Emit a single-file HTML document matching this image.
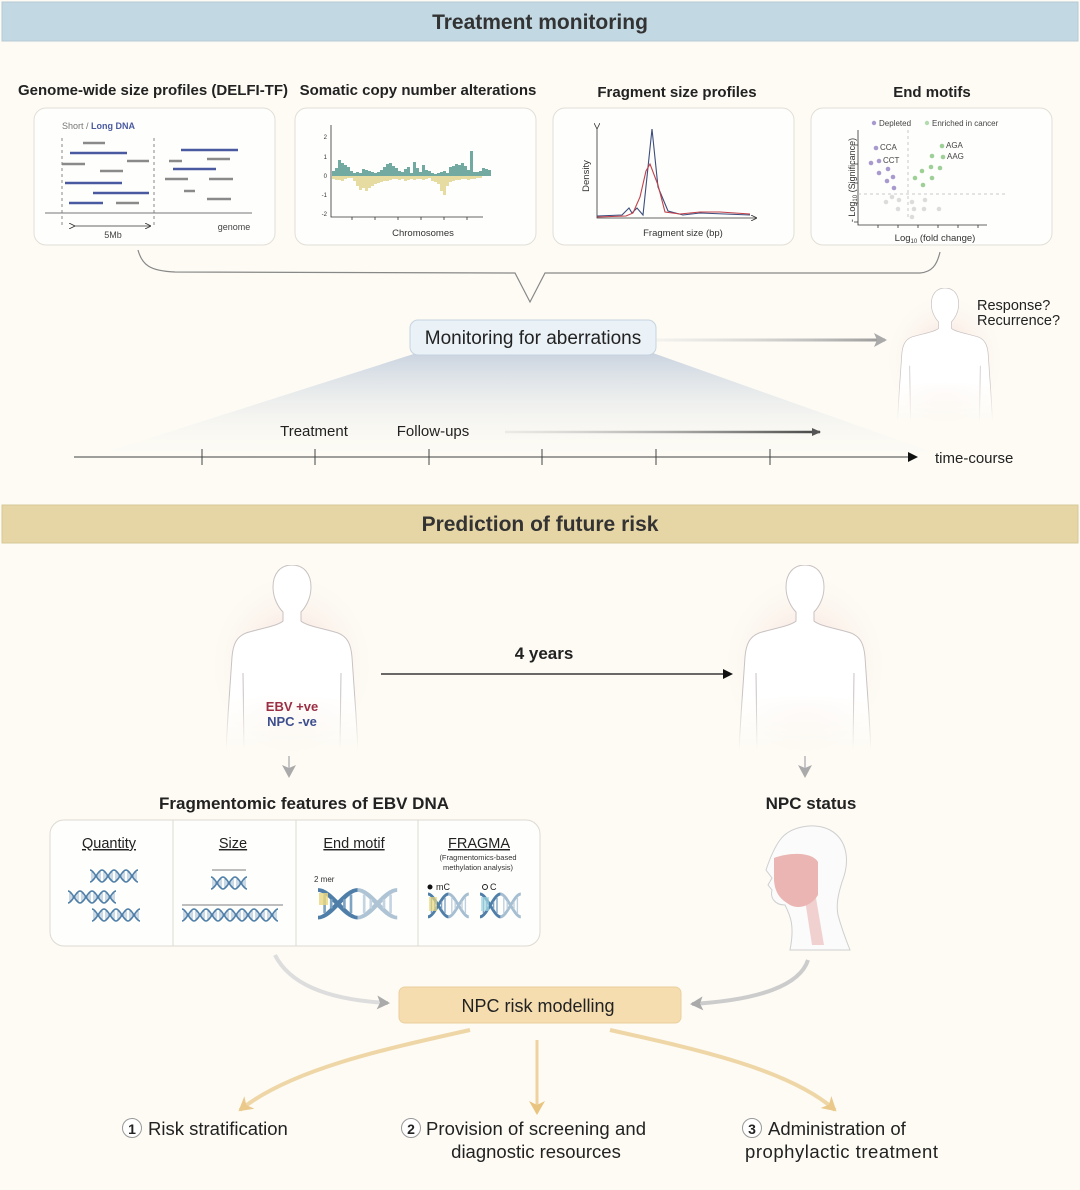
<!DOCTYPE html>
<html><head><meta charset="utf-8"><style>
html,body{margin:0;padding:0;background:#fdfbf4;}
svg{display:block;font-family:"Liberation Sans","DejaVu Sans",sans-serif;}
</style></head><body>
<svg width="1080" height="1190" viewBox="0 0 1080 1190" xmlns="http://www.w3.org/2000/svg">
<defs>
 <marker id="ah" markerWidth="10" markerHeight="10" refX="8" refY="5" orient="auto" markerUnits="userSpaceOnUse"><path d="M0,0 L10,5 L0,10 Z" fill="#111"/></marker>
 <marker id="ahg" markerWidth="14" markerHeight="14" refX="11" refY="7" orient="auto" markerUnits="userSpaceOnUse"><path d="M0,0 L13,7 L0,14 L3,7 Z" fill="#aaa"/></marker>
 <marker id="ahd" markerWidth="10" markerHeight="10" refX="8" refY="5" orient="auto" markerUnits="userSpaceOnUse"><path d="M0,1 L9,5 L0,9 Z" fill="#555"/></marker>
 <marker id="ahy" markerWidth="16" markerHeight="16" refX="12" refY="8" orient="auto" markerUnits="userSpaceOnUse"><path d="M0,0 L14,8 L0,16 L4,8 Z" fill="#e8c47f"/></marker>
 <marker id="ahs" markerWidth="6" markerHeight="6" refX="5" refY="3" orient="auto" markerUnits="userSpaceOnUse"><path d="M0,0 L6,3 L0,6" fill="none" stroke="#333" stroke-width="0.8"/></marker>
 <linearGradient id="fan" x1="0" y1="0" x2="0" y2="1">
  <stop offset="0" stop-color="#c3cedd" stop-opacity="0.9"/><stop offset="1" stop-color="#fdfbf4" stop-opacity="0"/></linearGradient>
 <linearGradient id="garr" gradientUnits="userSpaceOnUse" x1="656" y1="0" x2="885" y2="0"><stop offset="0" stop-color="#ddd" stop-opacity="0.3"/><stop offset="1" stop-color="#999"/></linearGradient>
 <linearGradient id="darr" gradientUnits="userSpaceOnUse" x1="505" y1="0" x2="820" y2="0"><stop offset="0" stop-color="#ccc" stop-opacity="0.3"/><stop offset="1" stop-color="#444"/></linearGradient>
 <linearGradient id="fade" x1="0" y1="0" x2="0" y2="1"><stop offset="0.7" stop-color="#fff"/><stop offset="1" stop-color="#000"/></linearGradient>
 <mask id="fm" maskContentUnits="objectBoundingBox"><rect width="1" height="1" fill="url(#fade)"/></mask>
 <radialGradient id="glow"><stop offset="0" stop-color="#f3c9c3" stop-opacity="0.85"/><stop offset="1" stop-color="#fdfbf4" stop-opacity="0"/></radialGradient>
 <path id="body" d="M0,0 C-12,0 -19,9 -19,22 C-19,34 -13,43 -9,47 L-9,56 C-14,61 -34,64 -46,68 C-56,72 -59,80 -60,92 L-64,150 L-66,185 L66,185 L64,150 L60,92 C59,80 56,72 46,68 C34,64 14,61 9,56 L9,47 C13,43 19,34 19,22 C19,9 12,0 0,0 Z"/>
 <g id="person">
  <ellipse cx="0" cy="100" rx="85" ry="95" fill="url(#glow)"/>
  <g mask="url(#fm)">
   <use href="#body" fill="#fff" stroke="#c9c2c2" stroke-width="1"/>
   <path d="M-49,108 L-48,185 M49,108 L48,185" stroke="#c9c2c2" fill="none"/>
  </g>
 </g>
 <g id="helix">
  <path d="M0,0 C4,0 8,12 12,12 M0,12 C4,12 8,0 12,0" stroke="#4f7fa8" stroke-width="1.6" fill="none"/>
  <path d="M2,2V10M4,4V8M8,4V8M10,2V10" stroke="#7fa3c3" stroke-width="0.8"/>
 </g>
</defs>

<rect x="2" y="2" width="1076" height="39" fill="#c2d9e4" stroke="#b5c9d4"/>
<text x="540" y="29" text-anchor="middle" font-size="21" font-weight="bold" fill="#333">Treatment monitoring</text>

<g font-size="15" font-weight="bold" fill="#222" text-anchor="middle">
<text x="153" y="95">Genome-wide size profiles (DELFI-TF)</text>
<text x="418" y="95">Somatic copy number alterations</text>
<text x="677" y="97">Fragment size profiles</text>
<text x="932" y="97">End motifs</text>
</g>
<g fill="#fefefc" stroke="#e2dfd7">
<rect x="34" y="108" width="241" height="137" rx="12"/>
<rect x="295" y="108" width="241" height="137" rx="12"/>
<rect x="553" y="108" width="241" height="137" rx="12"/>
<rect x="811" y="108" width="241" height="137" rx="12"/>
</g>

<text x="62" y="129" font-size="9" fill="#777">Short / <tspan fill="#4a5aa0" font-weight="bold">Long DNA</tspan></text>
<path d="M62,138V225M154,138V225" stroke="#888" stroke-dasharray="3,3"/>
<path d="M45,213H252" stroke="#777"/>
<path d="M74,226H150" stroke="#333" stroke-width="0.8" marker-end="url(#ahs)" marker-start="url(#ahs)"/>
<text x="113" y="238" font-size="9" fill="#444" text-anchor="middle">5Mb</text>
<text x="234" y="230" font-size="9" fill="#444" text-anchor="middle">genome</text>
<g stroke="#8a8a8a" stroke-width="2.5">
<path d="M83,143H105M127,161H149M62,164H85M100,171H123M116,203H139M169,161H182M207,159H230M165,179H188M209,179H233M184,191H195M207,199H231"/>
</g>
<g stroke="#4a5aa0" stroke-width="2.5">
<path d="M70,153H127M65,183H122M93,193H149M69,203H103M181,150H238M173,169H216"/>
</g>

<path d="M331,125V217H483" stroke="#333" fill="none" stroke-width="0.8"/>
<g font-size="6" fill="#333" text-anchor="end"><text x="327" y="139">2</text><text x="327" y="159">1</text><text x="327" y="178">0</text><text x="327" y="197">-1</text><text x="327" y="216">-2</text></g>
<path d="M352,217v3M375,217v3M398,217v3M421,217v3M444,217v3M467,217v3" stroke="#333" stroke-width="0.8"/>
<path fill="#72aaa2" d="M332,176 V171h3V168h3V160h3V163h3V165h3V167h3V171h3V173h3V172h3V173h3V169h3V170h3V171h3V172h3V173h3V172h3V170h3V167h3V164h3V163h3V166h3V168h3V171h3V172h3V169h3V167h3V173h3V162h3V168h3V172h3V165h3V170h3V171h3V173h3V174h3V173h3V172h3V171h3V173h3V167h3V166h3V164h3V165h3V163h3V166h3V170h3V151h3V172h3V172h3V171h3V168h3V169h3V170h3V176Z"/>
<path fill="#e6dba1" d="M332,176 V179h3V180h3V180h3V181h3V179h3V178h3V178h3V181h3V186h3V190h3V188h3V191h3V188h3V186h3V184h3V183h3V182h3V181h3V181h3V180h3V179h3V179h3V180h3V179h3V181h3V180h3V179h3V180h3V179h3V179h3V180h3V179h3V178h3V181h3V182h3V184h3V191h3V195h3V186h3V182h3V181h3V180h3V180h3V179h3V179h3V180h3V179h3V179h3V178h3V178h3V176Z"/>
<text x="423" y="236" font-size="9.5" fill="#333" text-anchor="middle">Chromosomes</text>

<path d="M597,128V218H756" stroke="#333" fill="none" stroke-width="0.8" marker-start="url(#ahs)" marker-end="url(#ahs)"/>
<polyline points="597,216 622,215 629,208 632,213 637,208 643,215 652,129 658,187 668,211 683,215 700,213 750,215" fill="none" stroke="#3c4c7c" stroke-width="1.1"/>
<polyline points="597,217 626,216 633,213 640,197 646,171 650,164 658,185 665,212 680,214 700,212 720,212 750,214" fill="none" stroke="#c0404a" stroke-width="1.1"/>
<text transform="translate(589,176) rotate(-90)" font-size="9.5" fill="#333" text-anchor="middle">Density</text>
<text x="683" y="236" font-size="9.5" fill="#333" text-anchor="middle">Fragment size (bp)</text>

<path d="M858,130V225H987" stroke="#333" fill="none" stroke-width="0.8"/>
<path d="M854,145h4M854,164h4M854,183h4M854,203h4M854,222h4M878,225v3M898,225v3M918,225v3M938,225v3M958,225v3M978,225v3" stroke="#333" stroke-width="0.8"/>
<path d="M908,130V220M858,194H1005" stroke="#bbb" stroke-dasharray="3,3" stroke-width="0.8"/>
<circle cx="874" cy="123" r="2.2" fill="#a899cf"/><text x="879" y="126" font-size="8" fill="#444">Depleted</text>
<circle cx="927" cy="123" r="2.2" fill="#b3dbb0"/><text x="932" y="126" font-size="8" fill="#444">Enriched in cancer</text>
<g fill="#a899cf"><circle cx="876" cy="148" r="2.3"/><circle cx="879" cy="161" r="2.3"/><circle cx="871" cy="163" r="2.3"/><circle cx="879" cy="173" r="2.3"/><circle cx="888" cy="169" r="2.3"/><circle cx="887" cy="181" r="2.3"/><circle cx="893" cy="177" r="2.3"/><circle cx="894" cy="188" r="2.3"/></g>
<g fill="#9dcf97"><circle cx="942" cy="146" r="2.3"/><circle cx="943" cy="157" r="2.3"/><circle cx="932" cy="156" r="2.3"/><circle cx="922" cy="171" r="2.3"/><circle cx="931" cy="167" r="2.3"/><circle cx="940" cy="168" r="2.3"/><circle cx="915" cy="178" r="2.3"/><circle cx="932" cy="178" r="2.3"/><circle cx="923" cy="185" r="2.3"/></g>
<g fill="#dcdcdc"><circle cx="886" cy="202" r="2.3"/><circle cx="892" cy="197" r="2.3"/><circle cx="899" cy="200" r="2.3"/><circle cx="898" cy="209" r="2.3"/><circle cx="912" cy="202" r="2.3"/><circle cx="914" cy="209" r="2.3"/><circle cx="925" cy="200" r="2.3"/><circle cx="924" cy="209" r="2.3"/><circle cx="939" cy="209" r="2.3"/><circle cx="912" cy="217" r="2.3"/></g>
<g font-size="8" fill="#444"><text x="880" y="150">CCA</text><text x="883" y="163">CCT</text><text x="946" y="148">AGA</text><text x="947" y="159">AAG</text></g>
<text transform="translate(855,180) rotate(-90)" font-size="9" fill="#333" text-anchor="middle">- Log<tspan font-size="6" dy="2">10</tspan><tspan dy="-2"> (Significance)</tspan></text>
<text x="935" y="241" font-size="9.5" fill="#333" text-anchor="middle">Log<tspan font-size="6" dy="2">10</tspan><tspan dy="-2"> (fold change)</tspan></text>

<path d="M138,250 C142,265 150,271 175,272 L515,273 L530,302 L545,273 L920,273 C932,272 937,265 940,252" fill="none" stroke="#888" stroke-width="1.2"/>

<polygon points="420,352 650,352 960,462 75,462" fill="url(#fan)"/>
<rect x="410" y="320" width="246" height="35" rx="8" fill="#eaf1f7" stroke="#c6d4e0"/>
<text x="533" y="344" font-size="19" fill="#222" text-anchor="middle">Monitoring for aberrations</text>
<path d="M656,340H885" stroke="url(#garr)" stroke-width="3" marker-end="url(#ahg)"/>

<use href="#person" transform="translate(945,288) scale(0.72)"/>
<text x="977" y="310" font-size="14.5" fill="#222">Response?</text>
<text x="977" y="325" font-size="14.5" fill="#222">Recurrence?</text>

<path d="M74,457H916" stroke="#666" stroke-width="1.2" marker-end="url(#ah)"/>
<path d="M202,449V465M315,449V465M429,449V465M542,449V465M656,449V465M770,449V465" stroke="#444" stroke-width="1"/>
<text x="935" y="463" font-size="15" fill="#222">time-course</text>
<text x="314" y="436" font-size="15" fill="#222" text-anchor="middle">Treatment</text>
<text x="433" y="436" font-size="15" fill="#222" text-anchor="middle">Follow-ups</text>
<path d="M505,432H820" stroke="url(#darr)" stroke-width="2.5" marker-end="url(#ahd)"/>

<rect x="2" y="505" width="1076" height="38" fill="#e6d6a6" stroke="#d8c897"/>
<text x="540" y="531" text-anchor="middle" font-size="21" font-weight="bold" fill="#333">Prediction of future risk</text>

<use href="#person" transform="translate(292,565)"/>
<text x="292" y="711" font-size="13" font-weight="bold" fill="#9b2e43" text-anchor="middle">EBV +ve</text>
<text x="292" y="726" font-size="13" font-weight="bold" fill="#3e4f8e" text-anchor="middle">NPC -ve</text>
<path d="M289,756V776" stroke="#c8c8c8" stroke-width="2" marker-end="url(#ahg)"/>
<use href="#person" transform="translate(805,565)"/>
<path d="M805,756V776" stroke="#c8c8c8" stroke-width="2" marker-end="url(#ahg)"/>
<text x="544" y="659" font-size="17" font-weight="bold" fill="#222" text-anchor="middle">4 years</text>
<path d="M381,674H731" stroke="#111" stroke-width="1.3" marker-end="url(#ah)"/>

<text x="304" y="809" font-size="17" font-weight="bold" fill="#222" text-anchor="middle">Fragmentomic features of EBV DNA</text>
<text x="811" y="809" font-size="17" font-weight="bold" fill="#222" text-anchor="middle">NPC status</text>

<rect x="50" y="820" width="490" height="126" rx="14" fill="#fefefc" stroke="#dedad2"/>
<path d="M173,820V946M296,820V946M418,820V946" stroke="#dedad2"/>
<g font-size="14.5" fill="#222" text-anchor="middle" text-decoration="underline">
<text x="109" y="848">Quantity</text><text x="233" y="848">Size</text><text x="354" y="848">End motif</text><text x="479" y="848">FRAGMA</text>
</g>
<text x="478" y="860" font-size="7.5" fill="#333" text-anchor="middle">(Fragmentomics-based</text>
<text x="478" y="870" font-size="7.5" fill="#333" text-anchor="middle">methylation analysis)</text>
<g>
<use href="#helix" x="90" y="870"/><use href="#helix" x="102" y="870"/><use href="#helix" x="114" y="870"/><use href="#helix" x="126" y="870"/>
<use href="#helix" x="68" y="891"/><use href="#helix" x="80" y="891"/><use href="#helix" x="92" y="891"/><use href="#helix" x="104" y="891"/>
<use href="#helix" x="92" y="909"/><use href="#helix" x="104" y="909"/><use href="#helix" x="116" y="909"/><use href="#helix" x="128" y="909"/>
<use href="#helix" x="211" y="877"/><use href="#helix" x="223" y="877"/><use href="#helix" x="235" y="877"/>
<use href="#helix" x="182" y="909"/><use href="#helix" x="194" y="909"/><use href="#helix" x="206" y="909"/><use href="#helix" x="218" y="909"/><use href="#helix" x="230" y="909"/><use href="#helix" x="242" y="909"/><use href="#helix" x="254" y="909"/><use href="#helix" x="266" y="909"/>
</g>
<path d="M212,870H246M182,905H283" stroke="#555" stroke-width="0.7"/>
<text x="314" y="882" font-size="8" fill="#333">2 mer</text>
<g transform="translate(318,890) scale(3.3,2.3)"><use href="#helix"/><use href="#helix" x="12" opacity="0.45"/></g>
<rect x="319" y="893" width="9" height="12" fill="#ead77e" opacity="0.8"/>
<circle cx="430" cy="887" r="2.5" fill="#111"/><text x="436" y="890" font-size="9" fill="#222">mC</text>
<g transform="translate(428,894) scale(1.7,1.9)"><use href="#helix"/><use href="#helix" x="12" opacity="0.5"/></g>
<rect x="429" y="897" width="8" height="14" fill="#ead77e" opacity="0.7"/>
<circle cx="485" cy="887" r="2.5" fill="none" stroke="#222"/><text x="490" y="890" font-size="9" fill="#222">C</text>
<g transform="translate(480,894) scale(1.7,1.9)"><use href="#helix"/><use href="#helix" x="12" opacity="0.5"/></g>
<rect x="481" y="897" width="8" height="14" fill="#9fd4e0" opacity="0.7"/>

<g>
<path d="M790,950 C795,925 790,915 785,905 C775,905 770,898 772,890 L768,885 L772,878 L766,870 C770,858 774,848 780,840 C790,826 815,822 830,830 C848,840 850,862 842,882 C838,895 836,905 838,915 C842,930 846,940 850,950 Z" fill="#fbfbfb" stroke="#cfcfcf"/>
<path d="M774,858 C790,852 812,852 818,862 L818,895 C812,905 800,910 790,905 C782,900 775,895 774,880 Z" fill="#e6a8a5" opacity="0.85"/>
<path d="M805,900 L812,945 L824,945 L816,898 Z" fill="#e9b5b3" opacity="0.6"/>
</g>

<path d="M275,955 C290,985 330,1000 388,1003" fill="none" stroke="#ddd" stroke-width="4" marker-end="url(#ahg)"/>
<path d="M808,960 C800,985 760,1000 692,1004" fill="none" stroke="#ccc" stroke-width="4" marker-end="url(#ahg)"/>
<rect x="399" y="987" width="282" height="36" rx="6" fill="#f6ddb0" stroke="#ebcf9d"/>
<text x="538" y="1012" font-size="18" fill="#222" text-anchor="middle">NPC risk modelling</text>

<path d="M470,1030 C380,1050 290,1070 240,1110" fill="none" stroke="#eed39f" stroke-width="4" marker-end="url(#ahy)" opacity="0.9"/>
<path d="M537,1040 V1113" fill="none" stroke="#eed39f" stroke-width="3" marker-end="url(#ahy)"/>
<path d="M610,1030 C700,1050 790,1070 835,1110" fill="none" stroke="#eed39f" stroke-width="4" marker-end="url(#ahy)" opacity="0.9"/>

<g font-size="18.5" fill="#222">
<circle cx="132" cy="1128" r="9.5" fill="#fff" stroke="#999"/><text x="132" y="1134" font-size="14" text-anchor="middle" font-weight="bold">1</text>
<text x="148" y="1135">Risk stratification</text>
<circle cx="411" cy="1128" r="9.5" fill="#fff" stroke="#999"/><text x="411" y="1134" font-size="14" text-anchor="middle" font-weight="bold">2</text>
<text x="426" y="1135" textLength="220">Provision of screening and</text>
<text x="536" y="1158" text-anchor="middle">diagnostic resources</text>
<circle cx="752" cy="1128" r="9.5" fill="#fff" stroke="#999"/><text x="752" y="1134" font-size="14" text-anchor="middle" font-weight="bold">3</text>
<text x="768" y="1135">Administration of</text>
<text x="745" y="1158" textLength="193">prophylactic treatment</text>
</g>
</svg>
</body></html>
